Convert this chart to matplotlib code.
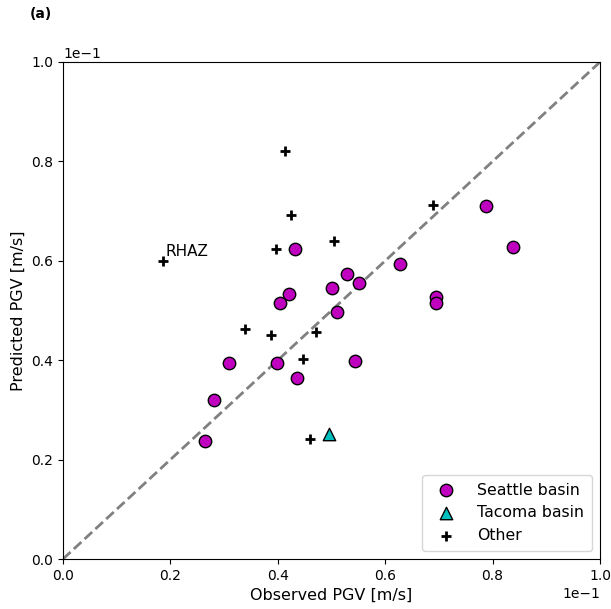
import numpy as np
import matplotlib.pyplot as plt

# observed / predicted PGV [m/s]
seattle_obs = [0.0264, 0.0281, 0.0309, 0.0398, 0.0436, 0.0404, 0.0421, 0.0432, 0.0501,
               0.0510, 0.0529, 0.0551, 0.0544, 0.0628, 0.0695, 0.0695, 0.0788, 0.0838]
seattle_pred = [0.0237, 0.0320, 0.0394, 0.0394, 0.0364, 0.0515, 0.0533, 0.0624, 0.0545,
                0.0497, 0.0573, 0.0555, 0.0398, 0.0594, 0.0527, 0.0515, 0.0710, 0.0628]
tacoma_obs = [0.0495]
tacoma_pred = [0.0252]
other_obs = [0.0413, 0.0424, 0.0397, 0.0505, 0.0186, 0.0339, 0.0387, 0.0471, 0.0447,
             0.0460, 0.0689]
other_pred = [0.0821, 0.0692, 0.0624, 0.0640, 0.0600, 0.0463, 0.0451, 0.0457, 0.0402,
              0.0241, 0.0712]

fig = plt.figure(figsize=(6.11, 6.09), dpi=100)
ax = fig.add_axes([0.1031, 0.0821, 0.8789, 0.8161])

ax.plot([0, 0.1], [0, 0.1], '--', color='gray', lw=2, zorder=1)
ax.scatter(seattle_obs, seattle_pred, s=80, c='m', edgecolors='k', label='Seattle basin', zorder=3)
ax.scatter(tacoma_obs, tacoma_pred, s=80, marker='^', c='c', edgecolors='k', label='Tacoma basin', zorder=3)
ax.scatter(other_obs, other_pred, s=60, marker='+', c='k', linewidths=2, label='Other', zorder=3)
ax.text(0.0190, 0.0604, 'RHAZ', fontsize=11, va='bottom', ha='left')

ax.set_xlim(0, 0.1)
ax.set_ylim(0, 0.1)
ax.ticklabel_format(style='sci', axis='both', scilimits=(0, 0))
ax.set_xlabel('Observed PGV [m/s]', fontsize=11.5)
ax.set_ylabel('Predicted PGV [m/s]', fontsize=11.5)
ax.legend(loc='lower right', fontsize=11.3, handletextpad=1.0, borderpad=0.5)

fig.text(0.049, 0.977, '(a)', fontweight='bold', fontsize=10, va='center')

fig.savefig('out.png', dpi=100)
